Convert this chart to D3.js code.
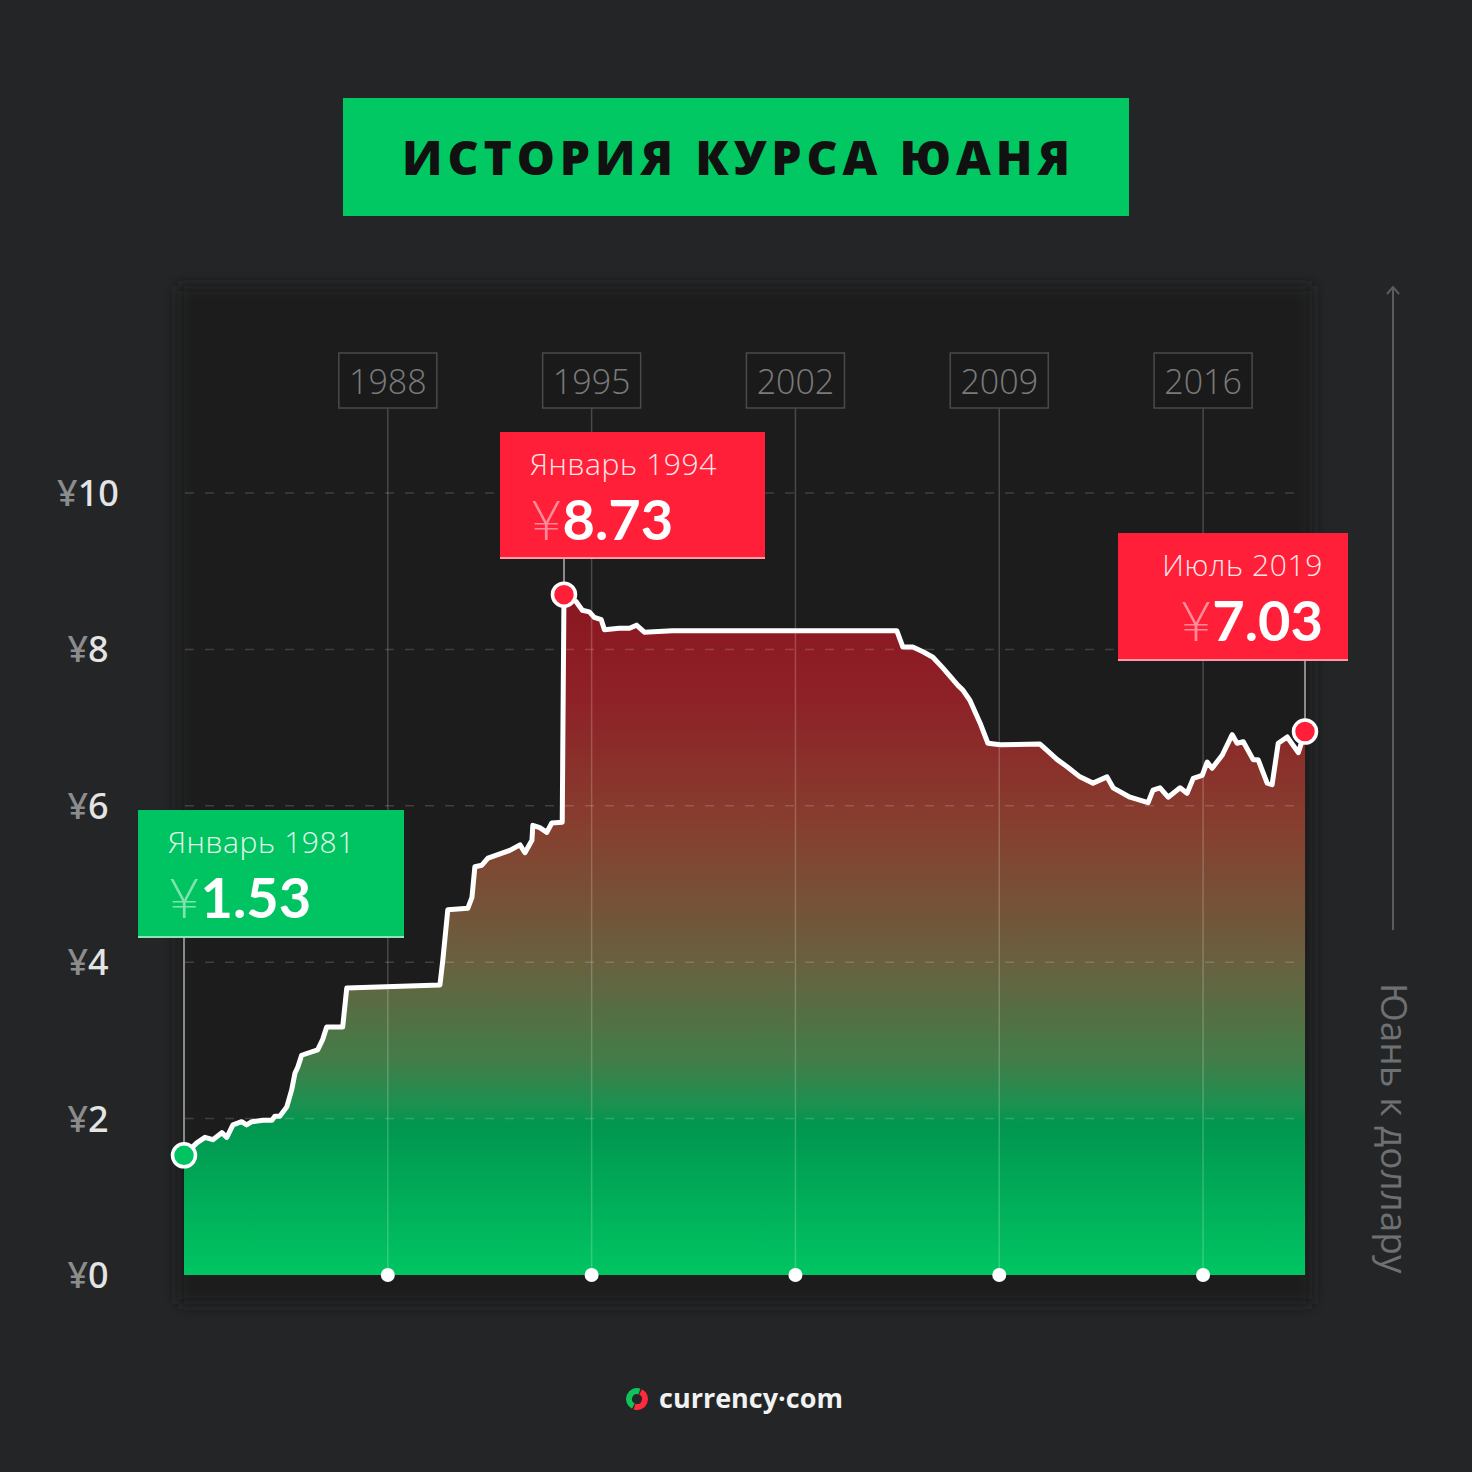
<!DOCTYPE html>
<html><head><meta charset="utf-8">
<script src="https://cdn.jsdelivr.net/npm/d3@7"></script>
<style>html,body{margin:0;padding:0;background:#232527;}svg{display:block}</style>
</head><body>
<svg id="c" width="1472" height="1472"></svg>
<script>
// ---- data ----
const years = [1981.0,1981.44,1981.72,1981.99,1982.30,1982.47,1982.68,1982.98,1983.15,1983.33,1983.71,1984.02,1984.12,1984.29,1984.53,1984.70,1984.81,1984.91,1985.04,1985.59,1985.76,1985.90,1986.45,1986.59,1989.79,1989.89,1990.06,1990.75,1990.89,1990.99,1991.23,1991.44,1992.19,1992.54,1992.71,1992.95,1992.98,1993.22,1993.46,1993.63,1993.99,1994.05,1994.47,1994.68,1994.92,1995.09,1995.33,1995.44,1995.95,1996.30,1996.54,1996.81,1997.77,2005.48,2005.69,2006.03,2006.38,2006.72,2007.07,2007.58,2007.75,2007.99,2008.34,2008.61,2009.03,2010.40,2010.64,2010.99,2011.33,2011.77,2012.22,2012.70,2012.91,2013.49,2014.11,2014.28,2014.52,2014.80,2015.21,2015.45,2015.66,2015.97,2016.14,2016.31,2016.66,2017.00,2017.17,2017.38,2017.72,2017.89,2018.20,2018.37,2018.58,2018.89,2019.27,2019.5];
const rates = [1.53,1.69,1.76,1.73,1.82,1.76,1.92,1.96,1.92,1.96,1.98,1.98,2.03,2.03,2.15,2.37,2.58,2.66,2.81,2.88,3.01,3.17,3.17,3.67,3.71,4.03,4.67,4.69,4.83,5.22,5.24,5.33,5.43,5.50,5.40,5.56,5.75,5.72,5.66,5.78,5.79,8.70,8.61,8.50,8.48,8.41,8.38,8.25,8.27,8.27,8.31,8.22,8.24,8.24,8.03,8.03,7.97,7.90,7.76,7.54,7.48,7.35,7.06,6.80,6.78,6.79,6.71,6.59,6.50,6.37,6.29,6.37,6.23,6.11,6.04,6.20,6.23,6.11,6.23,6.16,6.35,6.39,6.56,6.48,6.65,6.91,6.80,6.82,6.59,6.59,6.29,6.27,6.80,6.88,6.68,6.95];
const yTicks = [0,2,4,6,8,10];
const yearTicks = [1988,1995,2002,2009,2016];
const calloutDates = ["Январь 1981","Январь 1994","Июль 2019"];
const calloutValues = ["1.53","8.73","7.03"];
const calloutIndex = [0, 41, years.length-1];
const titleText = "ИСТОРИЯ КУРСА ЮАНЯ";
const axisTitle = "Юань к доллару";
const brand = "currency·com";

// ---- drawing ----
const svg = d3.select("#c");
const W = 1472, H = 1472;
const x = d3.scaleLinear().domain([1981, 2019.5]).range([184, 1305]);
const y = d3.scaleLinear().domain([0, 10]).range([1275, 493]);
const data = years.map((t,i)=>({t, v:rates[i]}));

const defs = svg.append("defs");
const f = defs.append("filter").attr("id","sh").attr("filterUnits","userSpaceOnUse")
  .attr("x",100).attr("y",200).attr("width",1300).attr("height",1200);
f.append("feGaussianBlur").attr("stdDeviation",7);
const g = defs.append("linearGradient").attr("id","ag").attr("gradientUnits","userSpaceOnUse")
  .attr("x1",0).attr("x2",0).attr("y1",590).attr("y2",1275);
[[590,"#8a1620"],[700,"#8e2127"],[830,"#86402f"],[960,"#69603f"],[1060,"#437c48"],[1105,"#1b9150"],[1125,"#01964f"],[1275,"#00c563"]]
  .forEach(([o,c])=>g.append("stop").attr("offset",((o-590)/(1275-590))).attr("stop-color",c));

svg.append("rect").attr("width",W).attr("height",H).attr("fill","#232527");
// dark panel
svg.append("rect").attr("x",178).attr("y",286).attr("width",1134).attr("height",1018)
  .attr("fill","#1a1a1b").attr("filter","url(#sh)");

// title
svg.append("rect").attr("x",343).attr("y",98).attr("width",786).attr("height",118).attr("fill","#01c862");
svg.append("text").attr("x",736).attr("y",175).attr("text-anchor","middle")
  .attr("font-family","'Open Sans', 'Noto Sans', sans-serif").attr("font-weight",800).attr("font-size",48)
  .attr("fill","#111").attr("textLength",668).attr("lengthAdjust","spacing").text(titleText);

// area + line
svg.append("path").datum(data).attr("fill","url(#ag)")
  .attr("d", d3.area().x(d=>x(d.t)).y0(y(0)).y1(d=>y(d.v)));

// gridlines
svg.append("g").selectAll("line").data(yTicks.filter(d=>d>0)).join("line")
  .attr("x1",185).attr("x2",1305).attr("y1",d=>y(d)).attr("y2",d=>y(d))
  .attr("stroke","rgba(255,255,255,0.16)").attr("stroke-width",1.5).attr("stroke-dasharray","9 11");

// year guide lines
svg.append("g").selectAll("line").data(yearTicks).join("line")
  .attr("x1",d=>x(d)).attr("x2",d=>x(d)).attr("y1",408).attr("y2",y(0))
  .attr("stroke","rgba(255,255,255,0.2)").attr("stroke-width",1.5);

svg.append("path").datum(data).attr("fill","none").attr("stroke","#fff").attr("stroke-width",5)
  .attr("stroke-linejoin","round").attr("stroke-linecap","round")
  .attr("d", d3.line().x(d=>x(d.t)).y(d=>y(d.v)));

// year boxes
const yb = svg.append("g").selectAll("g").data(yearTicks).join("g");
yb.append("rect").attr("x",d=>x(d)-49).attr("y",353).attr("width",98).attr("height",55)
  .attr("fill","#1a1a1b").attr("stroke","#4a4a4a").attr("stroke-width",1.5);
yb.append("text").attr("x",d=>x(d)).attr("y",394).attr("text-anchor","middle")
  .attr("font-family","'Open Sans', sans-serif").attr("font-weight",300).attr("font-size",34)
  .attr("fill","#7a7a7a").text(d=>d);
// bottom dots
svg.append("g").selectAll("circle").data(yearTicks).join("circle")
  .attr("cx",d=>x(d)).attr("cy",y(0)).attr("r",7).attr("fill","#fff");

// y labels
const yl = svg.append("g").selectAll("text").data(yTicks).join("text")
  .attr("x",88).attr("y",d=>y(d)+13).attr("text-anchor","middle")
  .attr("font-family","'Noto Sans', sans-serif").attr("font-weight",500).attr("font-size",36);
yl.append("tspan").attr("fill","#8c8c8c").text("¥");
yl.append("tspan").attr("fill","#e4e4e4").text(d=>d);

// right axis
svg.append("line").attr("x1",1393).attr("x2",1393).attr("y1",288).attr("y2",930)
  .attr("stroke","#5a5c5e").attr("stroke-width",2);
svg.append("path").attr("d","M1387,294 L1393,287 L1399,294").attr("fill","none")
  .attr("stroke","#5a5c5e").attr("stroke-width",2);
svg.append("text").attr("transform","translate(1381,983) rotate(90)")
  .attr("font-family","'Open Sans', sans-serif").attr("font-weight",400).attr("font-size",37)
  .attr("fill","#6e7072").text(axisTitle);

// callouts
const boxes = [
  {x:138,y:810,w:266,h:128,fill:"#00c462",yen:"#7fe3ae",date:"#e3f7ec",anchor:"start",tx:168},
  {x:500,y:432,w:265,h:127,fill:"#ff1f39",yen:"#ff8c98",date:"#ffe6e9",anchor:"start",tx:530},
  {x:1118,y:533,w:230,h:128,fill:"#ff1f39",yen:"#ff8c98",date:"#ffe6e9",anchor:"end",tx:1323}
];
calloutIndex.forEach((idx,i)=>{
  const b = boxes[i], d = data[idx];
  const cx = x(d.t), cy = y(d.v);
  svg.append("line").attr("x1",cx).attr("x2",cx).attr("y1",b.y+b.h).attr("y2",cy)
    .attr("stroke","#8a8a8a").attr("stroke-width",2);
  svg.append("rect").attr("x",b.x).attr("y",b.y).attr("width",b.w).attr("height",b.h).attr("fill",b.fill);
  svg.append("rect").attr("x",b.x).attr("y",b.y+b.h-2).attr("width",b.w).attr("height",2).attr("fill","rgba(255,255,255,0.55)");
  svg.append("text").attr("x",b.tx).attr("y",b.y+43).attr("text-anchor",b.anchor)
    .attr("font-family","'Open Sans', sans-serif").attr("font-weight",300).attr("font-size",30)
    .attr("letter-spacing",0.6).attr("fill",b.date).text(calloutDates[i]);
  const t = svg.append("text").attr("x",b.tx).attr("y",b.y+108).attr("text-anchor",b.anchor)
    .attr("font-family","Lato, sans-serif").attr("font-size",56);
  t.append("tspan").attr("fill",b.yen).attr("font-weight",300).text("¥");
  t.append("tspan").attr("fill","#fff").attr("font-weight",700).text(calloutValues[i]);
  svg.append("circle").attr("cx",cx).attr("cy",cy).attr("r",11.5)
    .attr("fill", i===0 ? "#00c462" : "#ff1f39").attr("stroke","#fff").attr("stroke-width",3.5);
});

// brand
const lg = svg.append("g").attr("transform","translate(637,1399)");
lg.append("path").attr("d", d3.arc()({innerRadius:5,outerRadius:11,startAngle:Math.PI*0.15,endAngle:Math.PI*1.1})).attr("fill","#ff2a3c");
lg.append("path").attr("d", d3.arc()({innerRadius:5,outerRadius:11,startAngle:Math.PI*1.15,endAngle:Math.PI*2.1})).attr("fill","#10c45a");
svg.append("text").attr("x",659).attr("y",1408).attr("font-family","'Open Sans', sans-serif")
  .attr("font-weight",700).attr("font-size",27).attr("fill","#f2f2f2").text(brand);
</script>
</body></html>
